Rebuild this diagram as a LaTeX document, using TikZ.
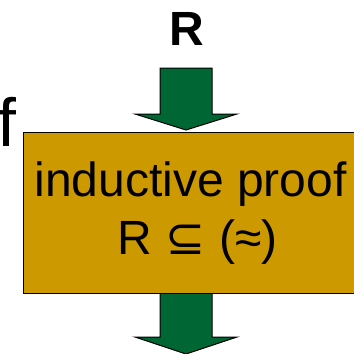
\documentclass[tikz,border=0pt]{standalone}
\usepackage{fontspec}
\setmainfont{Liberation Sans}
\newfontfamily\symfont{DejaVu Sans}
\usepackage{xcolor}
\usetikzlibrary{positioning}

\definecolor{proofgold}{HTML}{CC9900}
\definecolor{arrowgreen}{HTML}{006633}

\begin{document}
\begin{tikzpicture}[x=1pt, y=-1pt, line width=1pt,
    blockarrow/.style={draw=black, fill=arrowgreen, line join=miter},
    proofbox/.style={draw=black, fill=proofgold, minimum width=334pt, minimum height=161pt,
      inner sep=0pt, align=center, font=\fontsize{48}{57}\selectfont}]
      \useasboundingbox (0,0) rectangle (354,354);

      % Label above and the cut-off letter on the left
      \node[anchor=base, font=\fontsize{48}{50}\selectfont\bfseries] (rin) at (187,45) {R};
      \node[anchor=base east, inner sep=0pt, font=\fontsize{68}{70}\selectfont] (fcut) at (17,146) {f};

      % Arrow in and arrow out
      \coordinate (intop) at (186,68);
      \coordinate (outtop) at (186,293);
      \draw[blockarrow] (intop) ++(-26,0) -- ++(52,0) -- ++(0,46) -- ++(25,0)
        -- ++(-51,16) -- ++(-51,-16) -- ++(25,0) -- cycle;
      \draw[blockarrow] (outtop) ++(-26,0) -- ++(52,0) -- ++(0,44) -- ++(25,0)
        -- ++(-51,17) -- ++(-51,-17) -- ++(25,0) -- cycle;

      % Proof box
      \node[proofbox, anchor=north west] (proof) at (23,132)
        {inductive proof\\[1pt]\hspace*{14pt}R {\symfont ⊆} (≈)};
\end{tikzpicture}
\end{document}
